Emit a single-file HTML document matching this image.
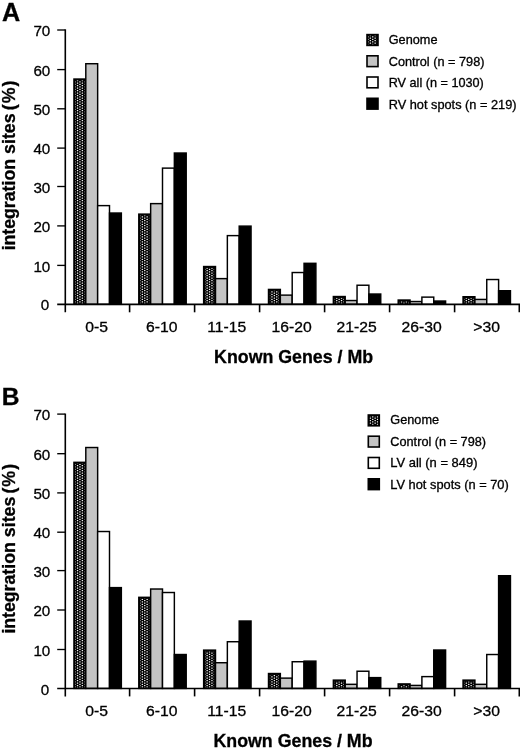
<!DOCTYPE html>
<html lang="en"><head><meta charset="utf-8"><title>Figure</title>
<style>
html,body{margin:0;padding:0;background:#fff;}
body{width:520px;height:750px;overflow:hidden;}
svg{display:block;will-change:transform;}
text{font-family:"Liberation Sans",Arial,Helvetica,sans-serif;fill:#000;stroke:#000;stroke-width:0.3px;}
.bars rect{stroke:#000;stroke-width:1.45px;}
.bars rect.p{stroke:none;}
.ax path{stroke:#000;stroke-width:1.35px;fill:none;}
.tk{font-size:15.2px;}
.lg{font-size:12px;}
.ti{font-size:17.8px;font-weight:bold;}
.pl{font-size:24.6px;font-weight:bold;}
</style></head><body>
<svg width="520" height="750" viewBox="0 0 520 750">
<defs>
<pattern id="dots" width="24" height="5" patternUnits="userSpaceOnUse">
<rect width="24" height="5" fill="#000"/>
<rect x="0.00" y="0.00" width="1.5" height="1.15" rx="0.4" fill="#fff"/>
<rect x="4.80" y="0.00" width="1.5" height="1.15" rx="0.4" fill="#fff"/>
<rect x="9.60" y="0.00" width="1.5" height="1.15" rx="0.4" fill="#fff"/>
<rect x="14.40" y="0.00" width="1.5" height="1.15" rx="0.4" fill="#fff"/>
<rect x="19.20" y="0.00" width="1.5" height="1.15" rx="0.4" fill="#fff"/>
<rect x="2.40" y="1.25" width="1.5" height="1.15" rx="0.4" fill="#fff"/>
<rect x="7.20" y="1.25" width="1.5" height="1.15" rx="0.4" fill="#fff"/>
<rect x="12.00" y="1.25" width="1.5" height="1.15" rx="0.4" fill="#fff"/>
<rect x="16.80" y="1.25" width="1.5" height="1.15" rx="0.4" fill="#fff"/>
<rect x="21.60" y="1.25" width="1.5" height="1.15" rx="0.4" fill="#fff"/>
<rect x="0.00" y="2.50" width="1.5" height="1.15" rx="0.4" fill="#fff"/>
<rect x="4.80" y="2.50" width="1.5" height="1.15" rx="0.4" fill="#fff"/>
<rect x="9.60" y="2.50" width="1.5" height="1.15" rx="0.4" fill="#fff"/>
<rect x="14.40" y="2.50" width="1.5" height="1.15" rx="0.4" fill="#fff"/>
<rect x="19.20" y="2.50" width="1.5" height="1.15" rx="0.4" fill="#fff"/>
<rect x="2.40" y="3.75" width="1.5" height="1.15" rx="0.4" fill="#fff"/>
<rect x="7.20" y="3.75" width="1.5" height="1.15" rx="0.4" fill="#fff"/>
<rect x="12.00" y="3.75" width="1.5" height="1.15" rx="0.4" fill="#fff"/>
<rect x="16.80" y="3.75" width="1.5" height="1.15" rx="0.4" fill="#fff"/>
<rect x="21.60" y="3.75" width="1.5" height="1.15" rx="0.4" fill="#fff"/>
</pattern>
</defs>
<rect width="520" height="750" fill="#fff"/>
<g class="bars">
<rect x="73.95" y="79.03" width="11.85" height="225.28" fill="#000"/>
<rect class="p" x="75.35" y="80.43" width="9.05" height="223.28" fill="url(#dots)"/>
<rect x="85.80" y="63.72" width="11.85" height="240.58" fill="#c4c4c4"/>
<rect x="97.65" y="205.62" width="11.85" height="98.68" fill="#ffffff"/>
<rect x="109.50" y="213.03" width="11.85" height="91.28" fill="#000000"/>
<rect x="138.80" y="214.12" width="11.85" height="90.18" fill="#000"/>
<rect class="p" x="140.20" y="215.53" width="9.05" height="88.18" fill="url(#dots)"/>
<rect x="150.65" y="203.62" width="11.85" height="100.68" fill="#c4c4c4"/>
<rect x="162.50" y="168.12" width="11.85" height="136.18" fill="#ffffff"/>
<rect x="174.35" y="153.03" width="11.85" height="151.28" fill="#000000"/>
<rect x="203.65" y="266.53" width="11.85" height="37.77" fill="#000"/>
<rect class="p" x="205.05" y="267.93" width="9.05" height="35.77" fill="url(#dots)"/>
<rect x="215.50" y="278.62" width="11.85" height="25.67" fill="#c4c4c4"/>
<rect x="227.35" y="235.62" width="11.85" height="68.68" fill="#ffffff"/>
<rect x="239.20" y="226.12" width="11.85" height="78.18" fill="#000000"/>
<rect x="268.50" y="289.43" width="11.85" height="14.88" fill="#000"/>
<rect class="p" x="269.90" y="290.82" width="9.05" height="12.88" fill="url(#dots)"/>
<rect x="280.35" y="295.12" width="11.85" height="9.18" fill="#c4c4c4"/>
<rect x="292.20" y="272.53" width="11.85" height="31.77" fill="#ffffff"/>
<rect x="304.05" y="263.32" width="11.85" height="40.98" fill="#000000"/>
<rect x="333.35" y="296.53" width="11.85" height="7.78" fill="#000"/>
<rect class="p" x="334.75" y="297.93" width="9.05" height="5.78" fill="url(#dots)"/>
<rect x="345.20" y="300.53" width="11.85" height="3.77" fill="#c4c4c4"/>
<rect x="357.05" y="285.23" width="11.85" height="19.07" fill="#ffffff"/>
<rect x="368.90" y="294.03" width="11.85" height="10.28" fill="#000000"/>
<rect x="398.20" y="300.03" width="11.85" height="4.28" fill="#000"/>
<rect class="p" x="399.60" y="301.43" width="9.05" height="2.28" fill="url(#dots)"/>
<rect x="410.05" y="301.53" width="11.85" height="2.77" fill="#c4c4c4"/>
<rect x="421.90" y="297.12" width="11.85" height="7.18" fill="#ffffff"/>
<rect x="433.75" y="301.03" width="11.85" height="3.27" fill="#000000"/>
<rect x="463.05" y="296.73" width="11.85" height="7.58" fill="#000"/>
<rect class="p" x="464.45" y="298.12" width="9.05" height="5.58" fill="url(#dots)"/>
<rect x="474.90" y="299.43" width="11.85" height="4.88" fill="#c4c4c4"/>
<rect x="486.75" y="279.53" width="11.85" height="24.77" fill="#ffffff"/>
<rect x="498.60" y="290.73" width="11.85" height="13.58" fill="#000000"/>
</g>
<g class="ax">
<path d="M65.3 29.30V312.30" style="stroke-width:1.6px"/>
<path d="M57.2 304.40H520" style="stroke-width:1.7px"/>
<path d="M57.2 265.40H65.0"/>
<path d="M57.2 225.90H65.0"/>
<path d="M57.2 186.50H65.0"/>
<path d="M57.2 148.10H65.0"/>
<path d="M57.2 108.80H65.0"/>
<path d="M57.2 69.60H65.0"/>
<path d="M57.2 30.00H65.0"/>
<path d="M129.60 304.30V312.30" style="stroke-width:1.6px"/>
<path d="M194.60 304.30V312.30" style="stroke-width:1.6px"/>
<path d="M259.60 304.30V312.30" style="stroke-width:1.6px"/>
<path d="M324.60 304.30V312.30" style="stroke-width:1.6px"/>
<path d="M389.60 304.30V312.30" style="stroke-width:1.6px"/>
<path d="M454.60 304.30V312.30" style="stroke-width:1.6px"/>
<path d="M519.30 304.30V312.30" style="stroke-width:1.6px"/>
</g>
<g class="tk" text-anchor="end">
<text x="49.3" y="310.40">0</text>
<text x="50.3" y="271.50">10</text>
<text x="50.3" y="232.00">20</text>
<text x="50.3" y="192.60">30</text>
<text x="50.3" y="154.20">40</text>
<text x="50.3" y="114.90">50</text>
<text x="50.3" y="75.70">60</text>
<text x="50.3" y="36.10">70</text>
</g>
<g class="tk" text-anchor="middle">
<text transform="translate(96.70 332.40) scale(1.035 1)">0-5</text>
<text transform="translate(161.70 332.40) scale(1.035 1)">6-10</text>
<text transform="translate(226.70 332.40) scale(1.035 1)">11-15</text>
<text transform="translate(291.70 332.40) scale(1.035 1)">16-20</text>
<text transform="translate(356.70 332.40) scale(1.035 1)">21-25</text>
<text transform="translate(421.70 332.40) scale(1.035 1)">26-30</text>
<text transform="translate(486.70 332.40) scale(1.035 1)">&gt;30</text>
</g>
<text x="293.6" y="363.40" text-anchor="middle" class="ti">Known Genes / Mb</text>
<text transform="translate(14.9 250.30) rotate(-90)" class="ti"><tspan letter-spacing="-0.08">integ</tspan>ration sites <tspan dx="-1.85" letter-spacing="1.0">(%)</tspan></text>
<text x="2.1" y="20.7" class="pl" style="font-size:25.2px">A</text>
<rect x="366.20" y="33.80" width="12.6" height="12.4" fill="#000"/>
<rect x="368.10" y="35.70" width="8.80" height="8.60" fill="url(#dots)"/>
<text transform="translate(388.7 44.30) scale(1.06 1)" class="lg">Genome</text>
<rect x="367.00" y="55.80" width="11.00" height="10.80" fill="#c4c4c4" stroke="#000" stroke-width="1.6"/>
<text transform="translate(388.7 65.80) scale(1.06 1)" class="lg">Control (n = 798)</text>
<rect x="367.00" y="77.00" width="11.00" height="10.80" fill="#ffffff" stroke="#000" stroke-width="1.6"/>
<text transform="translate(388.7 87.30) scale(1.055 1)" class="lg">RV all (n = 1030)</text>
<rect x="367.00" y="98.30" width="11.00" height="10.80" fill="#000000" stroke="#000" stroke-width="1.6"/>
<text transform="translate(388.7 108.80) scale(1.065 1)" class="lg">RV hot spots (n = 219)</text>
<g class="bars">
<rect x="73.95" y="462.32" width="11.85" height="226.08" fill="#000"/>
<rect class="p" x="75.35" y="463.72" width="9.05" height="224.08" fill="url(#dots)"/>
<rect x="85.80" y="447.52" width="11.85" height="240.88" fill="#c4c4c4"/>
<rect x="97.65" y="531.52" width="11.85" height="156.88" fill="#ffffff"/>
<rect x="109.50" y="587.62" width="11.85" height="100.78" fill="#000000"/>
<rect x="138.80" y="597.32" width="11.85" height="91.08" fill="#000"/>
<rect class="p" x="140.20" y="598.72" width="9.05" height="89.08" fill="url(#dots)"/>
<rect x="150.65" y="589.02" width="11.85" height="99.38" fill="#c4c4c4"/>
<rect x="162.50" y="592.52" width="11.85" height="95.88" fill="#ffffff"/>
<rect x="174.35" y="654.52" width="11.85" height="33.88" fill="#000000"/>
<rect x="203.65" y="650.12" width="11.85" height="38.27" fill="#000"/>
<rect class="p" x="205.05" y="651.52" width="9.05" height="36.27" fill="url(#dots)"/>
<rect x="215.50" y="662.73" width="11.85" height="25.67" fill="#c4c4c4"/>
<rect x="227.35" y="641.73" width="11.85" height="46.67" fill="#ffffff"/>
<rect x="239.20" y="621.02" width="11.85" height="67.38" fill="#000000"/>
<rect x="268.50" y="673.52" width="11.85" height="14.88" fill="#000"/>
<rect class="p" x="269.90" y="674.92" width="9.05" height="12.88" fill="url(#dots)"/>
<rect x="280.35" y="678.12" width="11.85" height="10.28" fill="#c4c4c4"/>
<rect x="292.20" y="661.73" width="11.85" height="26.67" fill="#ffffff"/>
<rect x="304.05" y="661.12" width="11.85" height="27.27" fill="#000000"/>
<rect x="333.35" y="680.12" width="11.85" height="8.28" fill="#000"/>
<rect class="p" x="334.75" y="681.52" width="9.05" height="6.28" fill="url(#dots)"/>
<rect x="345.20" y="684.32" width="11.85" height="4.08" fill="#c4c4c4"/>
<rect x="357.05" y="671.23" width="11.85" height="17.17" fill="#ffffff"/>
<rect x="368.90" y="677.62" width="11.85" height="10.78" fill="#000000"/>
<rect x="398.20" y="683.92" width="11.85" height="4.48" fill="#000"/>
<rect class="p" x="399.60" y="685.32" width="9.05" height="2.48" fill="url(#dots)"/>
<rect x="410.05" y="685.42" width="11.85" height="2.98" fill="#c4c4c4"/>
<rect x="421.90" y="676.62" width="11.85" height="11.78" fill="#ffffff"/>
<rect x="433.75" y="650.02" width="11.85" height="38.38" fill="#000000"/>
<rect x="463.05" y="680.12" width="11.85" height="8.28" fill="#000"/>
<rect class="p" x="464.45" y="681.52" width="9.05" height="6.28" fill="url(#dots)"/>
<rect x="474.90" y="684.32" width="11.85" height="4.08" fill="#c4c4c4"/>
<rect x="486.75" y="654.52" width="11.85" height="33.88" fill="#ffffff"/>
<rect x="498.60" y="575.72" width="11.85" height="112.68" fill="#000000"/>
</g>
<g class="ax">
<path d="M65.3 413.40V696.40" style="stroke-width:1.6px"/>
<path d="M57.2 688.50H520" style="stroke-width:1.7px"/>
<path d="M57.2 649.50H65.0"/>
<path d="M57.2 610.00H65.0"/>
<path d="M57.2 570.60H65.0"/>
<path d="M57.2 532.20H65.0"/>
<path d="M57.2 492.90H65.0"/>
<path d="M57.2 453.70H65.0"/>
<path d="M57.2 414.10H65.0"/>
<path d="M129.60 688.40V696.40" style="stroke-width:1.6px"/>
<path d="M194.60 688.40V696.40" style="stroke-width:1.6px"/>
<path d="M259.60 688.40V696.40" style="stroke-width:1.6px"/>
<path d="M324.60 688.40V696.40" style="stroke-width:1.6px"/>
<path d="M389.60 688.40V696.40" style="stroke-width:1.6px"/>
<path d="M454.60 688.40V696.40" style="stroke-width:1.6px"/>
<path d="M519.30 688.40V696.40" style="stroke-width:1.6px"/>
</g>
<g class="tk" text-anchor="end">
<text x="49.3" y="694.50">0</text>
<text x="50.3" y="655.60">10</text>
<text x="50.3" y="616.10">20</text>
<text x="50.3" y="576.70">30</text>
<text x="50.3" y="538.30">40</text>
<text x="50.3" y="499.00">50</text>
<text x="50.3" y="459.80">60</text>
<text x="50.3" y="420.20">70</text>
</g>
<g class="tk" text-anchor="middle">
<text transform="translate(96.70 715.90) scale(1.035 1)">0-5</text>
<text transform="translate(161.70 715.90) scale(1.035 1)">6-10</text>
<text transform="translate(226.70 715.90) scale(1.035 1)">11-15</text>
<text transform="translate(291.70 715.90) scale(1.035 1)">16-20</text>
<text transform="translate(356.70 715.90) scale(1.035 1)">21-25</text>
<text transform="translate(421.70 715.90) scale(1.035 1)">26-30</text>
<text transform="translate(486.70 715.90) scale(1.035 1)">&gt;30</text>
</g>
<text x="293.0" y="746.80" text-anchor="middle" class="ti">Known Genes / Mb</text>
<text transform="translate(14.9 633.60) rotate(-90)" class="ti"><tspan letter-spacing="-0.08">integ</tspan>ration sites <tspan dx="-1.85" letter-spacing="1.0">(%)</tspan></text>
<text x="1.7" y="404.8" class="pl">B</text>
<rect x="367.50" y="414.20" width="12.6" height="12.4" fill="#000"/>
<rect x="369.40" y="416.10" width="8.80" height="8.60" fill="url(#dots)"/>
<text transform="translate(390.3 424.00) scale(1.06 1)" class="lg">Genome</text>
<rect x="368.30" y="436.20" width="11.00" height="10.80" fill="#c4c4c4" stroke="#000" stroke-width="1.6"/>
<text transform="translate(390.3 445.60) scale(1.06 1)" class="lg">Control (n = 798)</text>
<rect x="368.30" y="457.50" width="11.00" height="10.80" fill="#ffffff" stroke="#000" stroke-width="1.6"/>
<text transform="translate(390.3 467.20) scale(1.08 1)" class="lg">LV all (n = 849)</text>
<rect x="368.30" y="478.80" width="11.00" height="10.80" fill="#000000" stroke="#000" stroke-width="1.6"/>
<text transform="translate(390.3 488.80) scale(1.07 1)" class="lg">LV hot spots (n = 70)</text>
</svg>
</body></html>
